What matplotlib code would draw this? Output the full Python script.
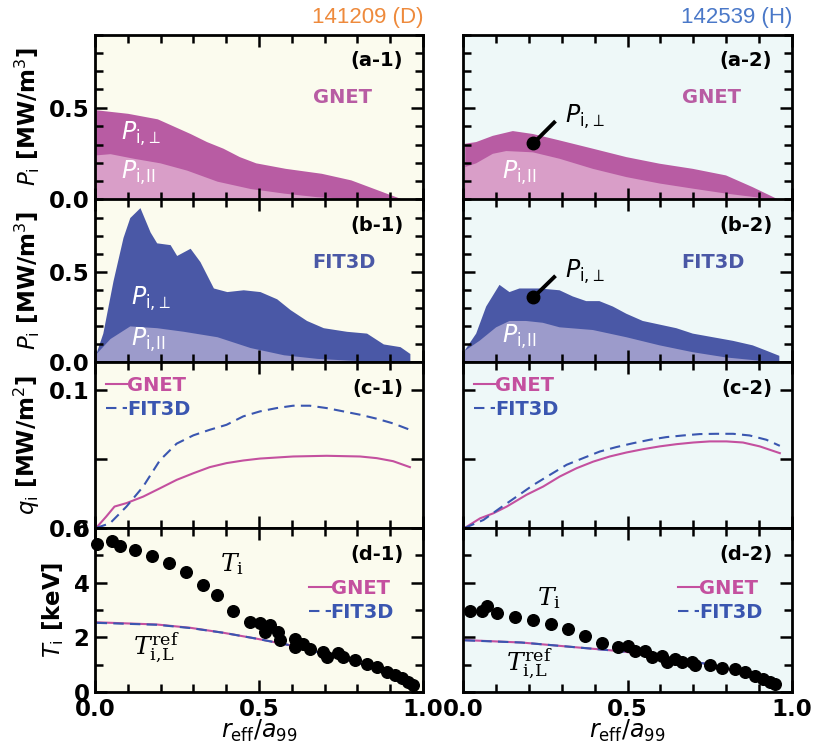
import matplotlib
matplotlib.use('Agg')
import matplotlib.pyplot as plt
from matplotlib.ticker import MultipleLocator, FixedLocator, FixedFormatter

# ---- data ----
# (a) GNET power density, upper edge of the stack and parallel part
a1_x_tot = [0.0, 0.05, 0.10, 0.19, 0.24, 0.29, 0.34, 0.39, 0.44, 0.49, 0.58, 0.69, 0.78, 0.88, 0.94]
a1_tot = [0.49, 0.48, 0.47, 0.44, 0.40, 0.36, 0.316, 0.28, 0.234, 0.20, 0.17, 0.143, 0.107, 0.04, 0.0]
a1_x_par = [0.0, 0.046, 0.117, 0.198, 0.28, 0.372, 0.473, 0.575, 0.677, 0.778, 0.88]
a1_par = [0.243, 0.25, 0.225, 0.20, 0.16, 0.10, 0.06, 0.035, 0.015, 0.006, 0.0]

a2_x_tot = [0.005, 0.0385, 0.0892, 0.15, 0.211, 0.292, 0.393, 0.495, 0.596, 0.697, 0.798, 0.879, 0.96]
a2_tot = [0.307, 0.316, 0.35, 0.376, 0.36, 0.325, 0.28, 0.234, 0.198, 0.17, 0.134, 0.07, 0.0]
a2_x_par = [0.005, 0.0385, 0.0892, 0.13, 0.211, 0.292, 0.393, 0.495, 0.596, 0.697, 0.798, 0.879, 0.96]
a2_par = [0.18, 0.20, 0.252, 0.267, 0.26, 0.225, 0.17, 0.125, 0.09, 0.062, 0.035, 0.017, 0.0]

# (b) FIT3D power density
b1_x_tot = [0.0033, 0.0238, 0.0549, 0.0854, 0.106, 0.137, 0.168, 0.188, 0.229, 0.249, 0.29, 0.32,
            0.361, 0.402, 0.452, 0.503, 0.554, 0.595, 0.645, 0.696, 0.767, 0.828, 0.879, 0.93, 0.96]
b1_tot = [0.05, 0.16, 0.45, 0.69, 0.80, 0.855, 0.72, 0.66, 0.65, 0.59, 0.63, 0.556,
          0.41, 0.39, 0.40, 0.39, 0.35, 0.29, 0.23, 0.19, 0.17, 0.16, 0.10, 0.085, 0.047]
b1_x_par = [0.0033, 0.0457, 0.106, 0.188, 0.27, 0.372, 0.473, 0.575, 0.677, 0.778, 0.96]
b1_par = [0.047, 0.13, 0.20, 0.19, 0.17, 0.14, 0.08, 0.04, 0.02, 0.01, 0.0]

b2_x_tot = [0.005, 0.0385, 0.0689, 0.1094, 0.1398, 0.17, 0.231, 0.292, 0.332, 0.373, 0.413, 0.454,
            0.495, 0.545, 0.596, 0.647, 0.697, 0.758, 0.819, 0.879, 0.92, 0.96]
b2_tot = [0.07, 0.16, 0.31, 0.43, 0.39, 0.41, 0.41, 0.40, 0.366, 0.34, 0.34, 0.31,
          0.27, 0.23, 0.21, 0.19, 0.16, 0.14, 0.12, 0.095, 0.066, 0.037]
b2_x_par = [0.005, 0.0486, 0.0993, 0.1398, 0.19, 0.241, 0.292, 0.393, 0.495, 0.596, 0.697, 0.798, 0.899, 0.96]
b2_par = [0.066, 0.12, 0.195, 0.23, 0.23, 0.22, 0.195, 0.18, 0.14, 0.095, 0.057, 0.028, 0.01, 0.0]

# (c) heat flux
c1_x_fit = [0.0033, 0.0457, 0.096, 0.147, 0.198, 0.249, 0.3, 0.35, 0.401, 0.452, 0.503, 0.554,
            0.604, 0.655, 0.706, 0.757, 0.808, 0.859, 0.909, 0.96]
c1_fit = [0.0, 0.0034, 0.0155, 0.03, 0.049, 0.061, 0.067, 0.071, 0.0746, 0.0807, 0.0843, 0.0867,
          0.0884, 0.0884, 0.0867, 0.0843, 0.0819, 0.079, 0.0756, 0.071]
c1_x_gnet = [0.0033, 0.034, 0.0595, 0.096, 0.147, 0.198, 0.249, 0.3, 0.35, 0.401, 0.452, 0.503,
             0.604, 0.706, 0.808, 0.859, 0.909, 0.96]
c1_gnet = [0.0, 0.0082, 0.0155, 0.018, 0.0227, 0.0287, 0.0348, 0.0396, 0.044, 0.0469, 0.0488, 0.0502,
           0.0517, 0.0522, 0.0517, 0.0505, 0.0483, 0.044]

c2_x_fit = [0.005, 0.062, 0.112, 0.163, 0.213, 0.264, 0.315, 0.365, 0.416, 0.466, 0.517, 0.568,
            0.618, 0.669, 0.72, 0.77, 0.821, 0.871, 0.922, 0.963]
c2_fit = [0.0, 0.0058, 0.0143, 0.0227, 0.031, 0.0384, 0.0457, 0.0505, 0.0553, 0.0585, 0.0613, 0.0638,
          0.0657, 0.0669, 0.0679, 0.0681, 0.0681, 0.0669, 0.0638, 0.0594]
c2_x_gnet = [0.005, 0.052, 0.092, 0.133, 0.193, 0.244, 0.294, 0.345, 0.396, 0.446, 0.497, 0.548,
             0.598, 0.649, 0.7, 0.75, 0.801, 0.851, 0.902, 0.963]
c2_gnet = [0.0, 0.007, 0.0106, 0.0155, 0.024, 0.03, 0.0372, 0.0432, 0.048, 0.0517, 0.0546, 0.057,
           0.059, 0.0606, 0.0618, 0.0626, 0.0626, 0.0618, 0.059, 0.0541]

# (d) ion temperature: measured points and reference profiles
d1_x_ti = [0.005, 0.051, 0.076, 0.122, 0.173, 0.226, 0.277, 0.33, 0.371, 0.422, 0.473, 0.503, 0.534,
           0.518, 0.559, 0.564, 0.61, 0.61, 0.635, 0.655, 0.696, 0.706, 0.742, 0.757, 0.793, 0.828,
           0.859, 0.889, 0.915, 0.935, 0.955, 0.97]
d1_ti = [5.41, 5.53, 5.35, 5.2, 4.96, 4.72, 4.38, 3.92, 3.55, 2.95, 2.56, 2.53, 2.44,
         2.19, 2.19, 1.89, 1.95, 1.65, 1.77, 1.59, 1.47, 1.28, 1.41, 1.28, 1.16, 1.04,
         0.92, 0.74, 0.64, 0.5, 0.38, 0.25]
d1_x_ref = [0.005, 0.188, 0.29, 0.39, 0.493, 0.595, 0.696, 0.828]
d1_ref_gnet = [2.55, 2.47, 2.35, 2.17, 1.95, 1.71, 1.41, 0.98]
d1_ref_fit = [2.53, 2.46, 2.34, 2.17, 1.95, 1.71, 1.41, 0.98]

d2_x_ti = [0.021, 0.057, 0.072, 0.102, 0.158, 0.214, 0.267, 0.32, 0.371, 0.422, 0.472, 0.503, 0.523,
           0.553, 0.574, 0.604, 0.619, 0.644, 0.665, 0.695, 0.705, 0.751, 0.786, 0.827, 0.857,
           0.888, 0.913, 0.933, 0.948]
d2_ti = [2.98, 2.98, 3.14, 2.9, 2.74, 2.62, 2.47, 2.29, 2.04, 1.81, 1.65, 1.68, 1.49,
         1.49, 1.28, 1.33, 1.1, 1.2, 1.08, 1.1, 0.98, 0.98, 0.89, 0.84, 0.74,
         0.6, 0.47, 0.38, 0.28]
d2_x_ref = [0.005, 0.178, 0.33, 0.482, 0.634, 0.735, 0.827]
d2_ref_gnet = [1.90, 1.81, 1.65, 1.49, 1.22, 1.04, 0.76]
d2_ref_fit = [1.89, 1.81, 1.65, 1.49, 1.22, 1.04, 0.76]

shots = ['141209 (D)', '142539 (H)']
shot_colors = ['#ee8a3c', '#4a78c8']
bg_colors = ['#fbfbee', '#eef8f8']

# ---- style ----
C_GNET = '#c4509f'
C_FIT = '#3a56b0'
C_GNET_PERP = '#b85ca3'
C_GNET_PAR = '#d99ec8'
C_FIT_PERP = '#4a58a6'
C_FIT_PAR = '#9c9bcb'

plt.rcParams['font.family'] = 'DejaVu Sans'
plt.rcParams['mathtext.fontset'] = 'dejavusans'

W, H = 813, 743
fig = plt.figure(figsize=(W / 100, H / 100), dpi=100)

col_left = [95, 463]
col_width = [328, 329]
row_top = [34.5, 199.5, 362, 528]
row_bot = [199.5, 362, 528, 692]


def make_ax(col, row):
    l = col_left[col] / W
    b = 1 - row_bot[row] / H
    h = (row_bot[row] - row_top[row]) / H
    ax = fig.add_axes([l, b, col_width[col] / W, h])
    ax.set_facecolor(bg_colors[col])
    for s in ax.spines.values():
        s.set_linewidth(2.0)
    ax.set_xlim(0, 1.0)
    ax.xaxis.set_major_locator(MultipleLocator(0.5))
    ax.xaxis.set_minor_locator(MultipleLocator(0.1))
    ax.tick_params(which='both', direction='in', top=True, right=True, width=1.8)
    ax.tick_params(which='major', length=8.5, labelsize=16.5, pad=4)
    ax.tick_params(which='minor', length=6)
    if row < 3:
        ax.tick_params(labelbottom=False)
    if col == 1:
        ax.tick_params(labelleft=False)
    return ax


def bold_ticks(ax):
    for lab in ax.get_xticklabels() + ax.get_yticklabels():
        lab.set_fontweight('bold')


panel_a = [(a1_x_tot, a1_tot, a1_x_par, a1_par), (a2_x_tot, a2_tot, a2_x_par, a2_par)]
panel_b = [(b1_x_tot, b1_tot, b1_x_par, b1_par), (b2_x_tot, b2_tot, b2_x_par, b2_par)]
panel_c = [(c1_x_gnet, c1_gnet, c1_x_fit, c1_fit), (c2_x_gnet, c2_gnet, c2_x_fit, c2_fit)]
panel_d = [(d1_x_ti, d1_ti, d1_x_ref, d1_ref_gnet, d1_ref_fit),
           (d2_x_ti, d2_ti, d2_x_ref, d2_ref_gnet, d2_ref_fit)]

perp_lbl = r'$P_{\mathrm{i},\!\perp}$'
par_lbl = r'$P_{\mathrm{i},\!\mathrm{II}}$'
tref_lbl = r'$T_{\mathrm{i},\!\mathrm{L}}^{\mathrm{ref}}$'

for col in range(2):
    tag = str(col + 1)

    # --- (a) GNET ---
    ax = make_ax(col, 0)
    xt, yt, xp, yp = panel_a[col]
    ax.fill_between(xt, 0, yt, color=C_GNET_PERP, lw=0)
    ax.fill_between(xp, 0, yp, color=C_GNET_PAR, lw=0)
    ax.set_ylim(0, 0.9)
    ax.yaxis.set_major_locator(MultipleLocator(0.5))
    ax.yaxis.set_minor_locator(MultipleLocator(0.1))
    ax.text(0.755, 0.62, 'GNET', transform=ax.transAxes, color=C_GNET_PERP,
            fontsize=14, fontweight='bold', ha='center', va='center')
    ax.text(0.94, 0.84, '(a-' + tag + ')', transform=ax.transAxes, fontsize=14,
            fontweight='bold', ha='right', va='center')
    ax.set_title(shots[col], loc='right', color=shot_colors[col], fontsize=16,
                 family='Liberation Sans', pad=8)
    if col == 0:
        ax.text(0.08, 0.36, perp_lbl, color='white', fontsize=17, va='center')
        ax.text(0.08, 0.145, par_lbl, color='white', fontsize=17, va='center')
        ax.set_ylabel(r'$P_\mathrm{i}$ [MW/m$^3$]', fontsize=16.5, fontweight='bold', labelpad=5)
    else:
        ax.plot([0.214, 0.277], [0.307, 0.42], color='black', lw=2.8)
        ax.plot([0.214], [0.307], 'o', color='black', ms=9)
        ax.text(0.31, 0.45, perp_lbl, color='black', fontsize=17, va='center')
        ax.text(0.12, 0.143, par_lbl, color='white', fontsize=17, va='center')
    bold_ticks(ax)

    # --- (b) FIT3D ---
    ax = make_ax(col, 1)
    xt, yt, xp, yp = panel_b[col]
    ax.fill_between(xt + [xt[-1]], 0, yt + [0.0], color=C_FIT_PERP, lw=0)
    ax.fill_between(xp, 0, yp, color=C_FIT_PAR, lw=0)
    ax.set_ylim(0, 0.9)
    ax.yaxis.set_major_locator(MultipleLocator(0.5))
    ax.yaxis.set_minor_locator(MultipleLocator(0.1))
    ax.text(0.76, 0.61, 'FIT3D', transform=ax.transAxes, color=C_FIT_PERP,
            fontsize=14, fontweight='bold', ha='center', va='center')
    ax.text(0.94, 0.84, '(b-' + tag + ')', transform=ax.transAxes, fontsize=14,
            fontweight='bold', ha='right', va='center')
    if col == 0:
        ax.text(0.11, 0.35, perp_lbl, color='white', fontsize=17, va='center')
        ax.text(0.11, 0.12, par_lbl, color='white', fontsize=17, va='center')
        ax.set_ylabel(r'$P_\mathrm{i}$ [MW/m$^3$]', fontsize=16.5, fontweight='bold', labelpad=5)
    else:
        ax.plot([0.214, 0.277], [0.358, 0.47], color='black', lw=2.8)
        ax.plot([0.214], [0.358], 'o', color='black', ms=9)
        ax.text(0.31, 0.50, perp_lbl, color='black', fontsize=17, va='center')
        ax.text(0.12, 0.14, par_lbl, color='white', fontsize=17, va='center')
    bold_ticks(ax)

    # --- (c) heat flux ---
    ax = make_ax(col, 2)
    xg, yg, xf, yf = panel_c[col]
    ax.plot(xg, yg, color=C_GNET, lw=1.5, label='GNET')
    ax.plot(xf, yf, color=C_FIT, lw=1.5, ls=(0, (5, 3)), label='FIT3D')
    ax.set_ylim(0, 0.12)
    ax.yaxis.set_major_locator(FixedLocator([0.0, 0.05, 0.1]))
    ax.yaxis.set_major_formatter(FixedFormatter(['0.0', '', '0.1']))
    ax.text(0.94, 0.84, '(c-' + tag + ')', transform=ax.transAxes, fontsize=14,
            fontweight='bold', ha='right', va='center')
    ax.legend(loc='upper left', bbox_to_anchor=(-0.02, 1.02), frameon=False,
              handlelength=1.1, handletextpad=0.0, labelspacing=0.25,
              labelcolor='linecolor', prop={'weight': 'bold', 'size': 14})
    if col == 0:
        ax.set_ylabel(r'$q_\mathrm{i}$ [MW/m$^2$]', fontsize=16.5, fontweight='bold', labelpad=5)
    bold_ticks(ax)

    # --- (d) ion temperature ---
    ax = make_ax(col, 3)
    xs, ys, xr, yrg, yrf = panel_d[col]
    ax.plot(xr, yrg, color=C_GNET, lw=1.5, label='GNET')
    ax.plot(xr, yrf, color=C_FIT, lw=1.5, ls=(0, (5, 3)), label='FIT3D')
    ax.scatter(xs, ys, s=70, color='black', zorder=3, clip_on=False)
    ax.set_ylim(0, 6)
    ax.yaxis.set_major_locator(MultipleLocator(2))
    ax.yaxis.set_minor_locator(MultipleLocator(1))
    ax.text(0.94, 0.84, '(d-' + tag + ')', transform=ax.transAxes, fontsize=14,
            fontweight='bold', ha='right', va='center')
    ax.legend(loc='center left', bbox_to_anchor=(0.6, 0.56), frameon=False,
              handlelength=1.1, handletextpad=0.0, labelspacing=0.25,
              labelcolor='linecolor', prop={'weight': 'bold', 'size': 14})
    if col == 0:
        ax.text(0.38, 0.78, r'$T_\mathrm{i}$', fontsize=18, math_fontfamily='dejavuserif',
                transform=ax.transAxes, va='center')
        ax.text(0.115, 0.27, tref_lbl, fontsize=18,
                math_fontfamily='dejavuserif', transform=ax.transAxes, va='center')
        ax.set_ylabel(r'$T_\mathrm{i}$ [keV]', fontsize=16.5, fontweight='bold', labelpad=5)
    else:
        ax.text(0.225, 0.57, r'$T_\mathrm{i}$', fontsize=18, math_fontfamily='dejavuserif',
                transform=ax.transAxes, va='center')
        ax.text(0.13, 0.17, tref_lbl, fontsize=18,
                math_fontfamily='dejavuserif', transform=ax.transAxes, va='center')
    ax.set_xticks([0.0, 0.5, 1.0])
    ax.set_xticklabels(['0.0', '0.5', '1.0'])
    ax.set_xlabel(r'$r_\mathrm{eff}/a_{99}$', fontsize=17, labelpad=-2)
    bold_ticks(ax)

fig.savefig('out.png', dpi=100)
